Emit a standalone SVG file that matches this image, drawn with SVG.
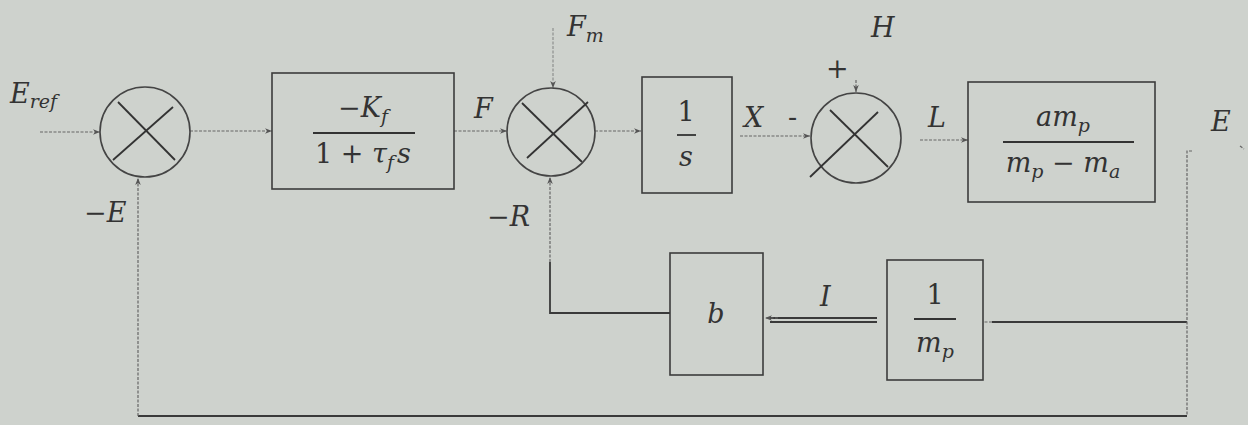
<svg xmlns="http://www.w3.org/2000/svg" width="1248" height="425" viewBox="0 0 1248 425">
<defs>
<marker id="ah" viewBox="0 0 10 10" refX="10" refY="5" markerWidth="7" markerHeight="7" orient="auto" markerUnits="userSpaceOnUse">
<path d="M0,1 L10,5 L0,9 L3,5 z" fill="#555"/>
</marker>
</defs>
<style>
.bg{fill:#ced2cd}
.box{fill:none;stroke:#3c3c3c;stroke-width:1.6}
.sum{fill:none;stroke:#444;stroke-width:1.6}
.cross{stroke:#333;stroke-width:1.8}
.w{stroke:#666;stroke-width:1.2;fill:none;stroke-dasharray:3 1.5}
.s{stroke:#3a3a3a;stroke-width:1.8;fill:none}
.t{font-family:"DejaVu Serif","Liberation Serif",serif;font-style:italic;font-size:27px;fill:#333}
.n{font-family:"DejaVu Serif","Liberation Serif",serif;font-size:27px;fill:#333}
.sub{font-size:19px}
.bar{stroke:#333;stroke-width:1.8}
</style>
<rect class="bg" x="0" y="0" width="1248" height="425"/>

<g id="connectors">
<line class="w" x1="40" y1="132" x2="100" y2="132" marker-end="url(#ah)"/>
<line class="w" x1="190" y1="131" x2="272" y2="131" marker-end="url(#ah)"/>
<line class="w" x1="454" y1="131" x2="507" y2="131" marker-end="url(#ah)"/>
<line class="w" x1="553" y1="28" x2="553" y2="88" stroke-opacity="0.6" marker-end="url(#ah)"/>
<line class="w" x1="595" y1="131" x2="641" y2="131" marker-end="url(#ah)"/>
<line class="w" x1="740" y1="136" x2="810" y2="136" marker-end="url(#ah)"/>
<line class="w" x1="856" y1="80" x2="856" y2="92" marker-end="url(#ah)"/>
<line class="w" x1="920" y1="140" x2="968" y2="140" marker-end="url(#ah)"/>
<polyline class="s" points="670,313 550,313 550,262"/>
<line class="w" x1="550" y1="262" x2="550" y2="177" marker-end="url(#ah)"/>
<line class="s" x1="770" y1="318" x2="877" y2="318"/>
<line class="s" x1="770" y1="322" x2="877" y2="322"/>
<line class="w" x1="778" y1="318" x2="765" y2="318" marker-end="url(#ah)"/>
<line class="s" x1="1187" y1="322" x2="992" y2="322"/>
<line class="w" x1="992" y1="322" x2="984" y2="322"/>
<polyline class="w" points="1192,151 1187,151 1187,416"/>
<polyline class="s" points="1187,416 138,416"/>
<line class="w" x1="138" y1="416" x2="138" y2="178" marker-end="url(#ah)"/>
<line class="w" x1="1240" y1="146" x2="1244" y2="149"/>
</g>

<g id="sum1">
<circle class="sum" cx="145" cy="132" r="45"/>
<line class="cross" x1="118" y1="102" x2="175" y2="160"/>
<line class="cross" x1="173" y1="107" x2="113" y2="160"/>
</g>
<g id="sum2">
<circle class="sum" cx="551" cy="132" r="44"/>
<line class="cross" x1="522" y1="103" x2="582" y2="162"/>
<line class="cross" x1="588" y1="102" x2="527" y2="158"/>
</g>
<g id="sum3">
<circle class="sum" cx="856" cy="138" r="45"/>
<line class="cross" x1="830" y1="110" x2="888" y2="167"/>
<line class="cross" x1="878" y1="112" x2="810" y2="177"/>
</g>

<g id="box-kf">
<rect class="box" x="272" y="73" width="182" height="116"/>
<text class="t" x="363" y="117" text-anchor="middle"><tspan font-style="normal">−</tspan>K<tspan class="sub" dy="6">f</tspan></text>
<line class="bar" x1="313" y1="133" x2="415" y2="133"/>
<text class="t" x="363" y="163" text-anchor="middle"><tspan font-style="normal">1 + </tspan>τ<tspan class="sub" dy="6">f</tspan><tspan dy="-6" dx="3">s</tspan></text>
</g>
<g id="box-int">
<rect class="box" x="642" y="77" width="90" height="116"/>
<text class="n" x="686" y="121" text-anchor="middle">1</text>
<line class="bar" x1="677" y1="135" x2="696" y2="135"/>
<text class="t" x="686" y="166" text-anchor="middle">s</text>
</g>
<g id="box-amp">
<rect class="box" x="968" y="82" width="187" height="120"/>
<text class="t" x="1063" y="126" text-anchor="middle">am<tspan class="sub" dy="6">p</tspan></text>
<line class="bar" x1="1003" y1="142" x2="1134" y2="142"/>
<text class="t" x="1063" y="172" text-anchor="middle">m<tspan class="sub" dy="6">p</tspan><tspan dy="-6" font-style="normal"> − </tspan>m<tspan class="sub" dy="6">a</tspan></text>
</g>
<g id="box-b">
<rect class="box" x="670" y="253" width="93" height="122"/>
<text class="t" x="716" y="323" text-anchor="middle">b</text>
</g>
<g id="box-mp">
<rect class="box" x="887" y="260" width="96" height="120"/>
<text class="n" x="935" y="304" text-anchor="middle">1</text>
<line class="bar" x1="914" y1="319" x2="956" y2="319"/>
<text class="t" x="935" y="352" text-anchor="middle">m<tspan class="sub" dy="6">p</tspan></text>
</g>

<g id="labels">
<text class="t" x="10" y="103">E<tspan class="sub" dy="5">ref</tspan></text>
<text class="t" x="84" y="222"><tspan font-style="normal">−</tspan>E</text>
<text class="t" x="474" y="118">F</text>
<text class="t" x="567" y="36">F<tspan class="sub" dy="6">m</tspan></text>
<text class="t" x="487" y="226"><tspan font-style="normal">−</tspan>R</text>
<text class="t" x="744" y="127">X</text>
<text class="n" x="788" y="126">-</text>
<text class="n" x="826" y="78" font-size="18">+</text>
<text class="t" x="871" y="37">H</text>
<text class="t" x="928" y="127">L</text>
<text class="t" x="1211" y="131">E</text>
<text class="t" x="820" y="306">I</text>
</g>
</svg>
